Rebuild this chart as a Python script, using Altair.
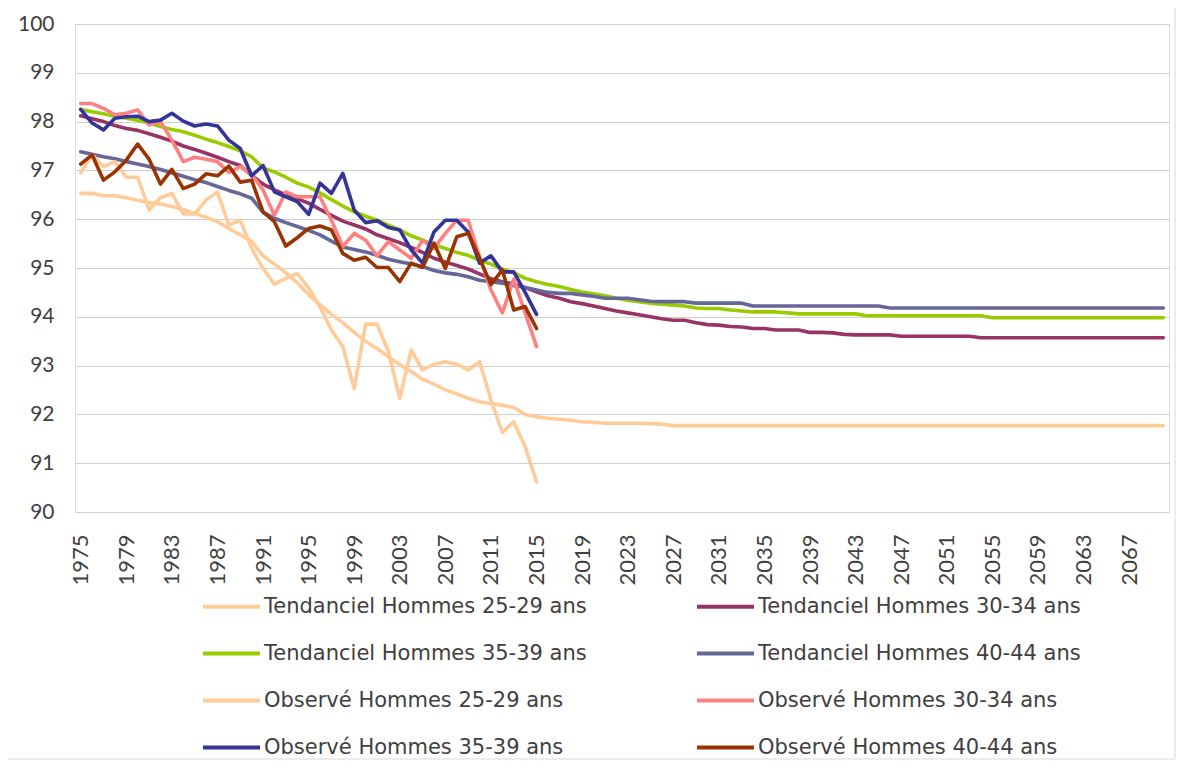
import altair as alt
import pandas as pd

FONT = "Lato"
LEGEND_FONT = "DejaVu Sans"

years_all = list(range(1975, 2071))
years_obs = list(range(1975, 2016))
tick_years = list(range(1975, 2068, 4))
y_ticks = [90, 91, 92, 93, 94, 95, 96, 97, 98, 99, 100]

series_names = [
    "Tendanciel Hommes 25-29 ans",
    "Tendanciel Hommes 30-34 ans",
    "Tendanciel Hommes 35-39 ans",
    "Tendanciel Hommes 40-44 ans",
    "Observé Hommes 25-29 ans",
    "Observé Hommes 30-34 ans",
    "Observé Hommes 35-39 ans",
    "Observé Hommes 40-44 ans",
]
series_colors = ["#FFCC99", "#993366", "#99CC00", "#666699",
                 "#FFCC99", "#FF8080", "#333399", "#993300"]

tend_25_29 = [
    96.53, 96.53, 96.48, 96.48, 96.44, 96.39, 96.34, 96.31, 96.26, 96.20,
    96.12, 96.04, 95.95, 95.81, 95.68, 95.54, 95.25, 95.08, 94.90, 94.70,
    94.45, 94.25, 94.05, 93.88, 93.68, 93.50, 93.35, 93.18, 93.02, 92.88,
    92.72, 92.62, 92.50, 92.42, 92.33, 92.26, 92.22, 92.19, 92.14, 92.00,
    91.95, 91.92, 91.90, 91.88, 91.85, 91.84, 91.82, 91.82, 91.82, 91.82,
    91.81, 91.80, 91.77, 91.77, 91.77, 91.77, 91.77, 91.77, 91.77, 91.77,
    91.77, 91.77, 91.77, 91.77, 91.77, 91.77, 91.77, 91.77, 91.77, 91.77,
    91.77, 91.77, 91.77, 91.77, 91.77, 91.77, 91.77, 91.77, 91.77, 91.77,
    91.77, 91.77, 91.77, 91.77, 91.77, 91.77, 91.77, 91.77, 91.77, 91.77,
    91.77, 91.77, 91.77, 91.77, 91.77, 91.77,
]
tend_30_34 = [
    98.12, 98.06, 98.00, 97.92, 97.86, 97.82, 97.75, 97.68, 97.60, 97.50,
    97.43, 97.35, 97.27, 97.18, 97.10, 96.90, 96.72, 96.60, 96.50, 96.42,
    96.33, 96.20, 96.08, 95.96, 95.88, 95.80, 95.68, 95.60, 95.52, 95.42,
    95.32, 95.20, 95.12, 95.05, 94.98, 94.88, 94.78, 94.72, 94.67, 94.60,
    94.51, 94.43, 94.38, 94.31, 94.27, 94.22, 94.17, 94.12, 94.08, 94.04,
    94.00, 93.96, 93.93, 93.93, 93.88, 93.84, 93.83, 93.80, 93.79, 93.76,
    93.76, 93.73, 93.73, 93.73, 93.68, 93.68, 93.67, 93.64, 93.63, 93.63,
    93.63, 93.63, 93.60, 93.60, 93.60, 93.60, 93.60, 93.60, 93.60, 93.57,
    93.57, 93.57, 93.57, 93.57, 93.57, 93.57, 93.57, 93.57, 93.57, 93.57,
    93.57, 93.57, 93.57, 93.57, 93.57, 93.57,
]
tend_35_39 = [
    98.25, 98.20, 98.16, 98.11, 98.07, 98.03, 97.97, 97.90, 97.84, 97.79,
    97.72, 97.64, 97.57, 97.49, 97.40, 97.28, 97.05, 96.97, 96.86, 96.74,
    96.66, 96.54, 96.40, 96.27, 96.15, 96.06, 95.98, 95.88, 95.78, 95.66,
    95.57, 95.48, 95.40, 95.32, 95.26, 95.16, 95.08, 94.98, 94.90, 94.79,
    94.72, 94.66, 94.62, 94.56, 94.51, 94.47, 94.43, 94.38, 94.34, 94.31,
    94.28, 94.26, 94.24, 94.22, 94.18, 94.17, 94.17, 94.14, 94.12, 94.10,
    94.10, 94.10, 94.08, 94.06, 94.06, 94.06, 94.06, 94.06, 94.06, 94.02,
    94.02, 94.02, 94.02, 94.02, 94.02, 94.02, 94.02, 94.02, 94.02, 94.02,
    93.98, 93.98, 93.98, 93.98, 93.98, 93.98, 93.98, 93.98, 93.98, 93.98,
    93.98, 93.98, 93.98, 93.98, 93.98, 93.98,
]
tend_40_44 = [
    97.38, 97.33, 97.28, 97.24, 97.18, 97.13, 97.08, 97.02, 96.95, 96.88,
    96.81, 96.75, 96.67, 96.59, 96.52, 96.43, 96.14, 96.02, 95.93, 95.85,
    95.77, 95.68, 95.55, 95.43, 95.38, 95.33, 95.26, 95.18, 95.13, 95.08,
    95.03, 94.95, 94.90, 94.87, 94.82, 94.75, 94.72, 94.69, 94.64, 94.60,
    94.55, 94.50, 94.48, 94.48, 94.45, 94.42, 94.38, 94.38, 94.38, 94.35,
    94.32, 94.31, 94.31, 94.31, 94.28, 94.28, 94.28, 94.28, 94.28, 94.22,
    94.22, 94.22, 94.22, 94.22, 94.22, 94.22, 94.22, 94.22, 94.22, 94.22,
    94.22, 94.18, 94.18, 94.18, 94.18, 94.18, 94.18, 94.18, 94.18, 94.18,
    94.18, 94.18, 94.18, 94.18, 94.18, 94.18, 94.18, 94.18, 94.18, 94.18,
    94.18, 94.18, 94.18, 94.18, 94.18, 94.18,
]

obs_25_29 = [
    96.95, 97.32, 97.08, 97.18, 96.86, 96.86, 96.19, 96.44, 96.53, 96.11,
    96.11, 96.39, 96.56, 95.88, 95.98, 95.40, 94.99, 94.67, 94.79, 94.89,
    94.59, 94.20, 93.73, 93.39, 92.53, 93.85, 93.85, 93.29, 92.33, 93.32,
    92.91, 93.03, 93.08, 93.03, 92.91, 93.08, 92.30, 91.63, 91.85, 91.34,
    90.62,
]
obs_30_34 = [
    98.37, 98.37, 98.27, 98.14, 98.17, 98.24, 97.93, 98.00, 97.62, 97.18,
    97.27, 97.23, 97.18, 96.96, 97.08, 96.92, 96.60, 96.08, 96.56, 96.46,
    96.46, 96.46, 95.98, 95.44, 95.71, 95.57, 95.25, 95.54, 95.37, 95.20,
    95.57, 95.40, 95.71, 95.98, 95.98, 95.23, 94.55, 94.08, 94.77, 94.08,
    93.39,
]
obs_35_39 = [
    98.25, 97.97, 97.83, 98.07, 98.10, 98.11, 98.00, 98.03, 98.17, 98.01,
    97.91, 97.95, 97.91, 97.62, 97.45, 96.89, 97.10, 96.56, 96.46, 96.36,
    96.10, 96.74, 96.53, 96.94, 96.19, 95.93, 95.97, 95.83, 95.78, 95.37,
    95.10, 95.74, 95.98, 95.98, 95.74, 95.10, 95.25, 94.92, 94.92, 94.50,
    94.05,
]
obs_40_44 = [
    97.13, 97.32, 96.80, 96.97, 97.21, 97.54, 97.23, 96.72, 97.02, 96.63,
    96.72, 96.93, 96.89, 97.09, 96.76, 96.80, 96.15, 95.95, 95.45, 95.62,
    95.81, 95.86, 95.78, 95.30, 95.16, 95.22, 95.01, 95.01, 94.72, 95.10,
    95.01, 95.51, 94.99, 95.64, 95.71, 95.20, 94.66, 94.96, 94.14, 94.21,
    93.76,
]

rows = []
for name, vals in zip(series_names[:4], [tend_25_29, tend_30_34, tend_35_39, tend_40_44]):
    for yr, v in zip(years_all, vals):
        rows.append({"year": yr, "value": v, "series": name})
for name, vals in zip(series_names[4:], [obs_25_29, obs_30_34, obs_35_39, obs_40_44]):
    for yr, v in zip(years_obs, vals):
        rows.append({"year": yr, "value": v, "series": name})
df = pd.DataFrame(rows)

lines = alt.Chart(df).mark_line(strokeWidth=3.6, strokeJoin="round", strokeCap="round").encode(
    x=alt.X(
        "year:Q",
        scale=alt.Scale(domain=[1974.5, 2070.5], nice=False, zero=False),
        axis=alt.Axis(
            values=tick_years, format="d", labelAngle=-90, grid=False, ticks=False,
            tickSize=0, domain=False, title=None, labelFontSize=22, labelFont=FONT,
            labelColor="#404040", labelPadding=22, labelOverlap=False, labelFlush=False,
        ),
    ),
    y=alt.Y(
        "value:Q",
        scale=alt.Scale(domain=[90, 100], nice=False, zero=False),
        axis=alt.Axis(
            values=y_ticks, grid=True, gridColor="#CFCFCF", gridWidth=1, ticks=False,
            tickSize=0, domain=False, title=None, labelFontSize=21, labelFont=FONT,
            labelColor="#404040", labelPadding=21, labelFlush=False,
        ),
    ),
    color=alt.Color(
        "series:N",
        sort=series_names,
        scale=alt.Scale(domain=series_names, range=series_colors),
        legend=alt.Legend(
            title=None, orient="none", legendX=126, legendY=552, columns=2,
            direction="horizontal",
            columnPadding=102, rowPadding=6, symbolType="stroke", symbolSize=3249,
            symbolStrokeWidth=4, labelFontSize=21, labelFont=LEGEND_FONT,
            labelColor="#404040", labelLimit=1000, labelOffset=2, padding=0,
        ),
    ),
)

frame = alt.Chart(pd.DataFrame({"k": [0]})).mark_rect(
    filled=False, stroke="#D9D9D9", strokeWidth=1
).encode(
    x=alt.value(-68), x2=alt.value(1100), y=alt.value(-18), y2=alt.value(735)
)

chart = alt.layer(frame, lines).properties(
    width=1094,
    height=488,
    autosize=alt.AutoSizeParams(type="none"),
    padding={"left": 67, "top": 16, "right": 7, "bottom": 248},
).configure_view(stroke=None).configure(background="white")

chart.save("out.html", embed_options={"renderer": "svg", "actions": False})
